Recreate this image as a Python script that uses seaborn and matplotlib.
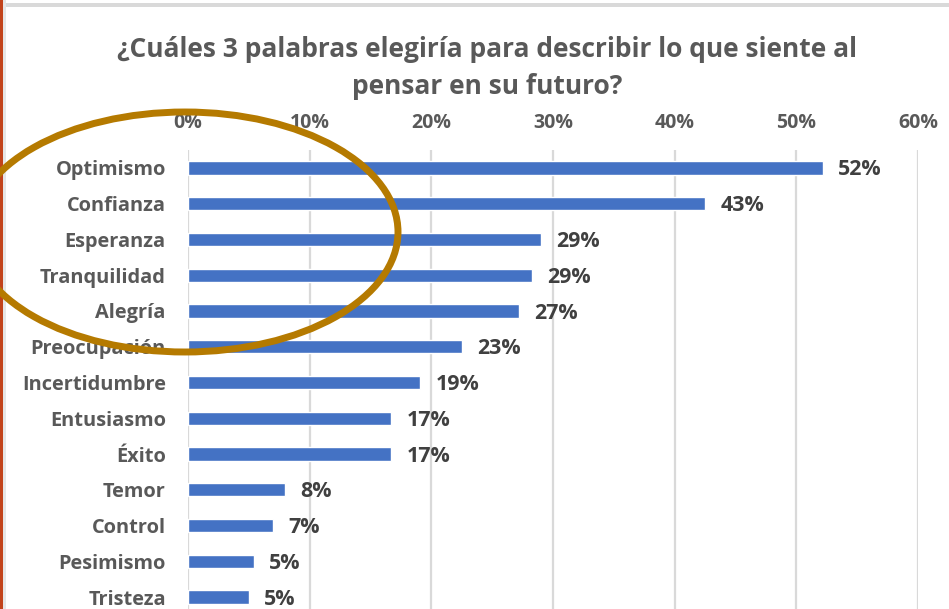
import numpy as np
import pandas as pd
import matplotlib
matplotlib.use("Agg")
import matplotlib.pyplot as plt
import seaborn as sns
from matplotlib.patches import Ellipse, Rectangle

# datos
palabras = ["Optimismo", "Confianza", "Esperanza", "Tranquilidad", "Alegría",
            "Preocupación", "Incertidumbre", "Entusiasmo", "Éxito", "Temor",
            "Control", "Pesimismo", "Tristeza"]
valores = [0.522, 0.425, 0.290, 0.283, 0.272, 0.225, 0.191, 0.167, 0.167,
           0.080, 0.070, 0.054, 0.050]
etiquetas = ["52%", "43%", "29%", "29%", "27%", "23%", "19%", "17%", "17%",
             "8%", "7%", "5%", "5%"]
ticks = [0, 0.1, 0.2, 0.3, 0.4, 0.5, 0.6]
tick_labels = ["0%", "10%", "20%", "30%", "40%", "50%", "60%"]
titulo = "¿Cuáles 3 palabras elegiría para describir lo que siente al\npensar en su futuro?"

df = pd.DataFrame({"palabra": palabras, "valor": valores})

sns.set_theme(style="white")
plt.rcParams['font.family'] = ['Open Sans', 'DejaVu Sans']

W, H = 949, 609
fig = plt.figure(figsize=(W / 100, H / 100), dpi=100)
fig.patch.set_facecolor("white")

gris = "#595959"

# ejes: 0% en x=188, 60% en x=918; filas desde y=150 hasta y=615
ax = fig.add_axes([188 / W, 1 - 615 / H, (918 - 188) / W, 465 / H])
sns.barplot(data=df, y="palabra", x="valor", orient="h", color="#4472C4",
            width=0.37, saturation=1, ax=ax)

ax.set_xlim(0, 0.6)
ax.set_xticks(ticks)
ax.set_xticklabels(tick_labels)
ax.xaxis.tick_top()
ax.tick_params(axis="x", length=0, pad=12, labelsize=14, labelcolor=gris)
ax.tick_params(axis="y", length=0, pad=16, labelsize=14.4, labelcolor=gris)
for t in ax.get_xticklabels() + ax.get_yticklabels():
    t.set_fontweight("bold")
ax.set_xlabel("")
ax.set_ylabel("")
for s in ax.spines.values():
    s.set_visible(False)
ax.grid(axis="x", color="#d9d9d9", linewidth=1.6)
ax.set_axisbelow(True)

anns = ax.bar_label(ax.containers[0], labels=etiquetas, padding=11, fontsize=15.4,
                    fontweight="bold", color="#404040")
for a in anns:
    a.xyann = (11, -1.5)

fig.text(487 / W, 1 - 68 / H, titulo, ha="center", va="center",
         fontsize=19, fontweight="bold", color=gris, linespacing=1.45)

# marco de la diapositiva
fig.patches.append(Rectangle((0, 0), 3 / W, 1, transform=fig.transFigure,
                             facecolor="#C2431B", edgecolor="none", zorder=5))
fig.patches.append(Rectangle((3 / W, 0), 3 / W, 1, transform=fig.transFigure,
                             facecolor="#e6e6e6", edgecolor="none", zorder=5))
fig.patches.append(Rectangle((6 / W, 1 - 7 / H), 1, 4 / H, transform=fig.transFigure,
                             facecolor="#d9d9d9", edgecolor="none", zorder=5))

# elipse resaltando las primeras cinco
fig.patches.append(Ellipse((185 / W, 1 - 232 / H), 426 / W, 240 / H,
                           transform=fig.transFigure, fill=False,
                           edgecolor="#B57A00", linewidth=5, zorder=6))

fig.savefig("out.png", dpi=100)
